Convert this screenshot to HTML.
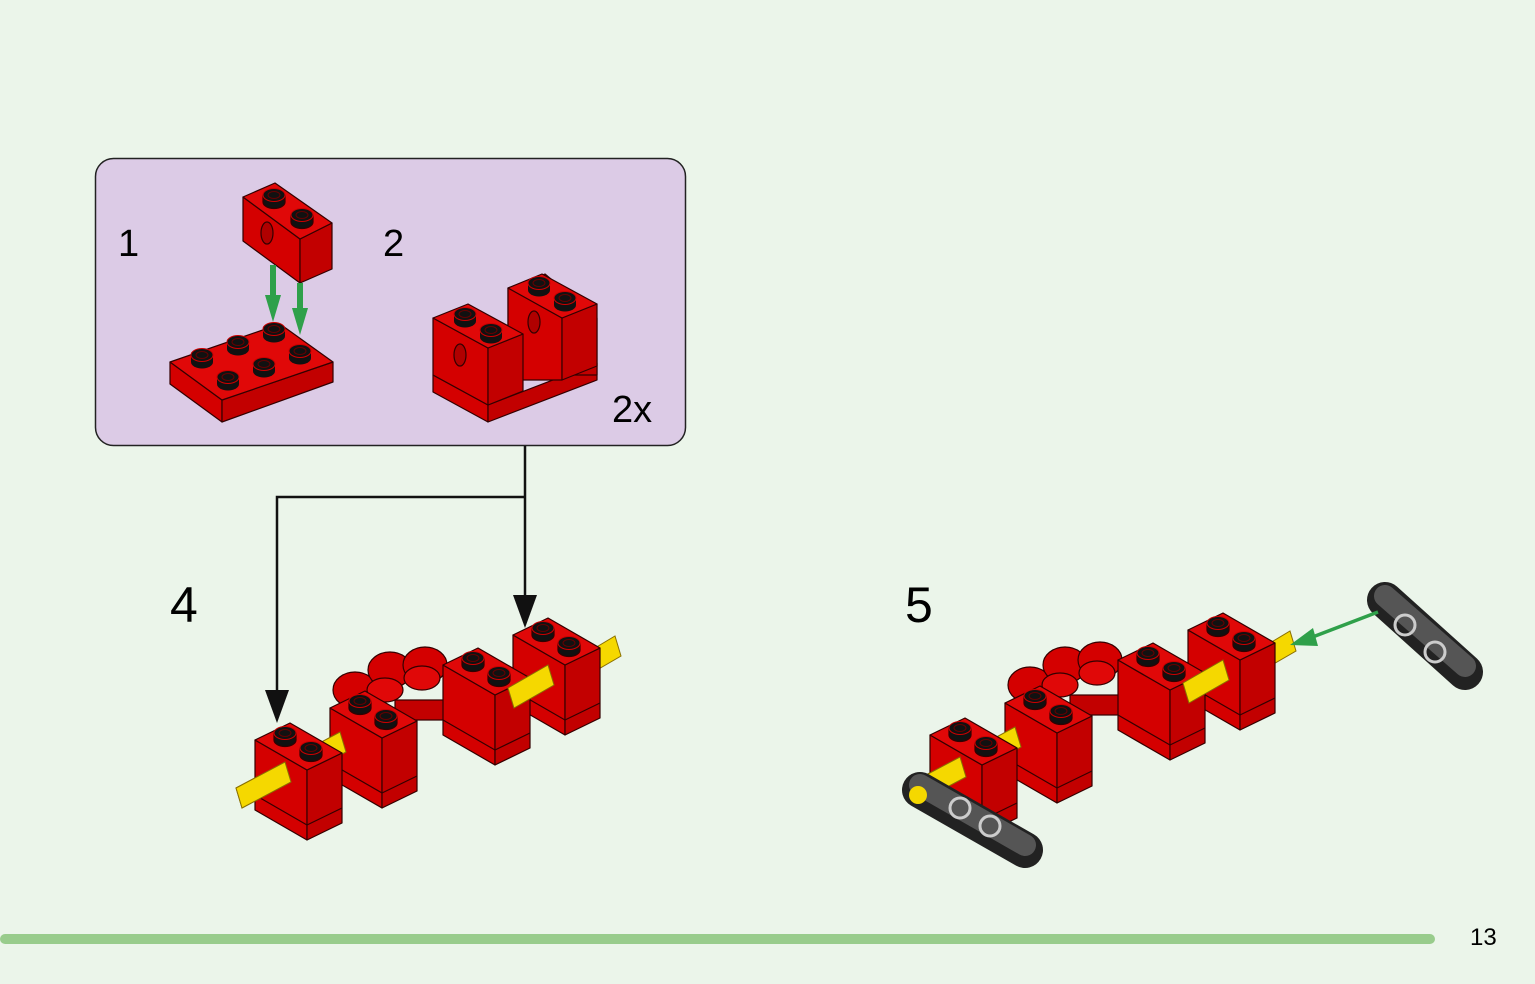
<!DOCTYPE html>
<html><head><meta charset="utf-8"><style>
html,body{margin:0;padding:0;background:#ebf5ea;}
svg{display:block;font-family:"Liberation Sans",sans-serif;}
</style></head><body>
<svg width="1535" height="984" viewBox="0 0 1535 984" xmlns="http://www.w3.org/2000/svg">
<defs>
<g id="stud">
<rect x="-11" y="-7" width="22" height="7" fill="#111"/>
<ellipse cx="0" cy="0" rx="11" ry="6.5" fill="#111"/>
<ellipse cx="0" cy="-7" rx="11" ry="6.5" fill="#111" stroke="#c00" stroke-width="1"/>
<ellipse cx="0" cy="-7" rx="6" ry="3.5" fill="none" stroke="#600" stroke-width="1"/>
</g>
<g id="b4" stroke="#300" stroke-width="1.2" stroke-linejoin="round">
<polygon points="0,0 52,30 52,100 0,70" fill="#d40000"/>
<polygon points="52,30 87,13 87,83 52,100" fill="#c20000"/>
<polygon points="0,0 35,-17 87,13 52,30" fill="#e00808"/>
<line x1="0" y1="55" x2="52" y2="85"/>
<line x1="52" y1="85" x2="87" y2="68"/>
<use href="#stud" x="30" y="0"/>
<use href="#stud" x="56" y="15"/>
</g>
<g id="b1" stroke="#300" stroke-width="1.2" stroke-linejoin="round">
<polygon points="0,0 57,42 57,86 0,44" fill="#d40000"/>
<polygon points="57,42 89,26 89,72 57,86" fill="#c20000"/>
<polygon points="0,0 32,-14 89,26 57,42" fill="#e00808"/>
<ellipse cx="24" cy="36" rx="6" ry="11" fill="#b00000"/>
<use href="#stud" x="31" y="5"/>
<use href="#stud" x="59" y="25"/>
</g>
</defs>

<rect x="95.5" y="158.5" width="590" height="287" rx="18" fill="#dccbe6" stroke="#222" stroke-width="1.5"/>
<text x="118" y="256" font-size="38">1</text>
<text x="383" y="256" font-size="38">2</text>
<text x="612" y="422" font-size="38">2x</text>

<g stroke="#300" stroke-width="1.2" stroke-linejoin="round">
<polygon points="170,362 222,400 222,422 170,384" fill="#d40000"/>
<polygon points="222,400 333,362 333,382 222,422" fill="#c20000"/>
<polygon points="170,362 280,324 333,362 222,400" fill="#e00808"/>
</g>
<use href="#stud" x="202" y="362"/>
<use href="#stud" x="238" y="349"/>
<use href="#stud" x="274" y="336"/>
<use href="#stud" x="228" y="384"/>
<use href="#stud" x="264" y="371"/>
<use href="#stud" x="300" y="358"/>
<use href="#b1" x="243" y="197"/>
<g fill="#2fa04a">
<rect x="270" y="265" width="6" height="40"/>
<polygon points="265,295 281,295 273,322"/>
<rect x="297" y="283" width="6" height="35"/>
<polygon points="292,308 308,308 300,335"/>
</g>

<g stroke="#300" stroke-width="1.2" stroke-linejoin="round">
<polygon points="433,375 488,405 488,422 433,392" fill="#d40000"/>
<polygon points="488,405 597,363 597,380 488,422" fill="#c20000"/>
<polygon points="508,288 545,274 597,318 597,375 508,375" fill="#c20000"/>
<polygon points="508,288 562,318 562,380 508,380" fill="#d40000"/>
<polygon points="562,318 597,304 597,366 562,380" fill="#c20000"/>
<polygon points="508,288 542,274 597,304 562,318" fill="#e00808"/>
<polygon points="433,318 488,348 488,405 433,375" fill="#d40000"/>
<polygon points="488,348 523,334 523,391 488,405" fill="#c20000"/>
<polygon points="433,318 468,304 523,334 488,348" fill="#e00808"/>
<ellipse cx="460" cy="355" rx="6" ry="11" fill="#b00000"/>
<ellipse cx="534" cy="322" rx="6" ry="11" fill="#b00000"/>
</g>
<use href="#stud" x="465" y="321"/>
<use href="#stud" x="491" y="337"/>
<use href="#stud" x="539" y="290"/>
<use href="#stud" x="565" y="305"/>

<g stroke="#111" stroke-width="2.5" fill="none">
<line x1="525" y1="446" x2="525" y2="600"/>
<polyline points="525,497 277,497 277,695"/>
</g>
<polygon points="513,595 537,595 525,628" fill="#111"/>
<polygon points="265,690 289,690 277,723" fill="#111"/>

<text x="170" y="622" font-size="50">4</text>
<text x="905" y="622" font-size="50">5</text>

<g id="asm">
<polygon points="553,673 615,636 621,656 559,692" fill="#f5d800" stroke="#8a7000"/>
<use href="#b4" x="513" y="635"/>
<g stroke="#300" stroke-width="1.2" fill="#d40000">
<ellipse cx="355" cy="690" rx="22" ry="18"/>
<ellipse cx="390" cy="670" rx="22" ry="18"/>
<ellipse cx="425" cy="665" rx="22" ry="18"/>
<ellipse cx="385" cy="690" rx="18" ry="12" fill="#e00808"/>
<ellipse cx="422" cy="678" rx="18" ry="12" fill="#e00808"/>
<rect x="395" y="700" width="60" height="20" fill="#c20000"/>
</g>
<use href="#b4" x="443" y="665"/>
<polygon points="508,688 548,665 554,685 514,708" fill="#f5d800" stroke="#8a7000"/>
<use href="#b4" x="330" y="708"/>
<polygon points="236,788 340,732 346,752 242,808" fill="#f5d800" stroke="#8a7000"/>
<use href="#b4" x="255" y="740"/>
<polygon points="236,788 285,762 291,782 242,808" fill="#f5d800" stroke="#8a7000"/>
</g>

<use href="#asm" x="675" y="-5"/>
<g>
<line x1="920" y1="790" x2="1025" y2="850" stroke="#222" stroke-width="36" stroke-linecap="round"/>
<line x1="920" y1="785" x2="1025" y2="845" stroke="#555" stroke-width="22" stroke-linecap="round"/>
<circle cx="918" cy="795" r="9" fill="#f5d800"/>
<circle cx="960" cy="808" r="10" fill="none" stroke="#ccc" stroke-width="3"/>
<circle cx="990" cy="826" r="10" fill="none" stroke="#ccc" stroke-width="3"/>
<line x1="1385" y1="600" x2="1465" y2="672" stroke="#222" stroke-width="36" stroke-linecap="round"/>
<line x1="1385" y1="596" x2="1465" y2="666" stroke="#555" stroke-width="22" stroke-linecap="round"/>
<circle cx="1405" cy="625" r="10" fill="none" stroke="#ccc" stroke-width="3"/>
<circle cx="1435" cy="652" r="10" fill="none" stroke="#ccc" stroke-width="3"/>
</g>
<line x1="1378" y1="612" x2="1310" y2="638" stroke="#2fa04a" stroke-width="3.5"/>
<polygon points="1290,645 1313,628 1318,646" fill="#2fa04a"/>

<rect x="0" y="934" width="1435" height="10" rx="5" fill="#98cc8c"/>
<text x="1470" y="945" font-size="24">13</text>
</svg>
</body></html>
